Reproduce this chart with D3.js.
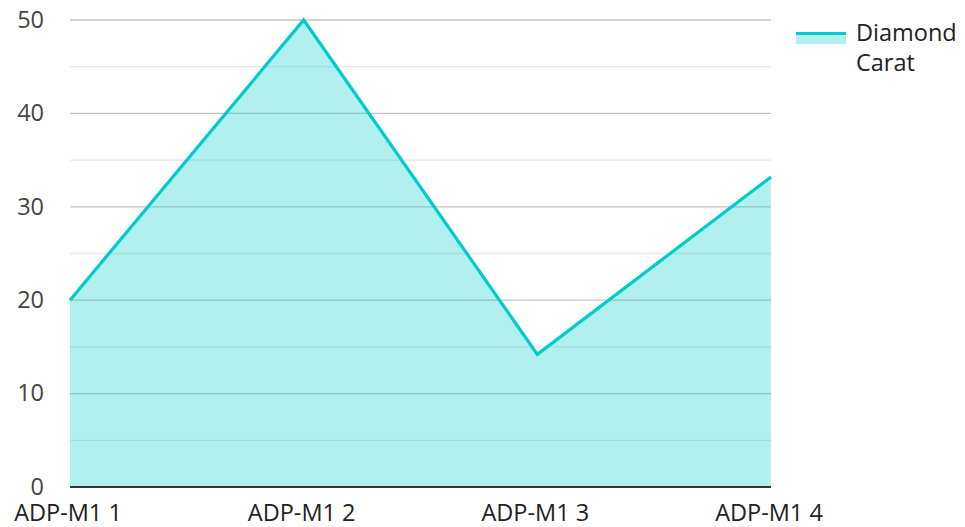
<!DOCTYPE html>
<html><head><meta charset="utf-8">
<script src="https://cdn.jsdelivr.net/npm/d3@7"></script>
<style>body{margin:0;background:#fff;}svg{display:block;font-family:"Open Sans","Noto Sans",sans-serif;}</style>
</head><body>
<svg id="c" width="965" height="527"></svg>
<script>
const categories = ["ADP-M1 1","ADP-M1 2","ADP-M1 3","ADP-M1 4"];
const values = [20, 50, 14.2, 33.2];
const seriesName = ["Diamond","Carat"];
const yTicks = [0,10,20,30,40,50];
const yMinor = [5,15,25,35,45];

const svg = d3.select("#c");
const m = {l:70, r:771, t:20, b:487};
const x = d3.scalePoint().domain(categories).range([m.l, m.r]);
const y = d3.scaleLinear().domain([0,50]).range([m.b, m.t]);

// grid
svg.append("g").selectAll("line").data(yMinor).join("line")
  .attr("x1", m.l).attr("x2", m.r).attr("y1", d=>y(d)).attr("y2", d=>y(d))
  .attr("stroke", "#e6e6e6").attr("stroke-width", 1.3);
svg.append("g").selectAll("line").data(yTicks.filter(d=>d>0)).join("line")
  .attr("x1", m.l).attr("x2", m.r).attr("y1", d=>y(d)).attr("y2", d=>y(d))
  .attr("stroke", "#c4c4c4").attr("stroke-width", 1.3);

const data = categories.map((c,i)=>({c, v:values[i]}));
svg.append("path").datum(data)
  .attr("d", d3.area().x(d=>x(d.c)).y0(y(0)).y1(d=>y(d.v)))
  .attr("fill", "rgba(0,204,204,0.3)");
svg.append("path").datum(data)
  .attr("d", d3.line().x(d=>x(d.c)).y(d=>y(d.v)))
  .attr("fill", "none").attr("stroke", "#00cccc").attr("stroke-width", 3.2)
  .attr("stroke-linejoin", "miter");

// baseline
svg.append("line").attr("x1", m.l).attr("x2", m.r).attr("y1", y(0)).attr("y2", y(0))
  .attr("stroke", "#333").attr("stroke-width", 2);

// y labels
svg.append("g").selectAll("text").data(yTicks).join("text")
  .attr("x", 44).attr("y", d=>y(d)).attr("dy", "0.33em")
  .attr("text-anchor", "end").attr("font-size", 23.5).attr("fill", "#444")
  .text(d=>d);

// x labels
svg.append("g").selectAll("text").data(categories).join("text")
  .attr("x", d=>x(d) - 2).attr("y", 521)
  .attr("text-anchor", "middle").attr("font-size", 23.5).attr("fill", "#222")
  .text(d=>d);

// legend
svg.append("rect").attr("x", 796).attr("y", 33).attr("width", 50).attr("height", 11)
  .attr("fill", "rgba(0,204,204,0.3)");
svg.append("line").attr("x1", 796).attr("x2", 846).attr("y1", 33.5).attr("y2", 33.5)
  .attr("stroke", "#00cccc").attr("stroke-width", 3.2);
svg.append("g").selectAll("text").data(seriesName).join("text")
  .attr("x", 856).attr("y", (d,i)=>41 + i*30).attr("font-size", 23.5).attr("fill", "#222")
  .text(d=>d);
</script>
</body></html>
